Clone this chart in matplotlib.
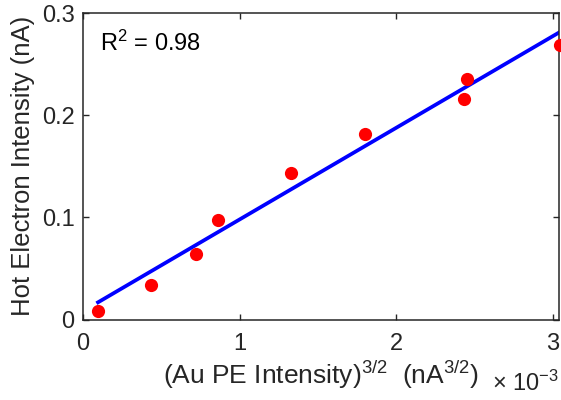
import matplotlib
matplotlib.use("Agg")
import matplotlib.pyplot as plt
import numpy as np

# Data (x in units of 1e-3 nA^{3/2})
pe_intensity_32 = [0.096, 0.434, 0.722, 0.860, 1.330, 1.799, 2.431, 2.450, 3.046]
hot_electron = [0.0086, 0.0335, 0.0641, 0.0977, 0.1434, 0.1816, 0.2161, 0.2354, 0.2687]
fit_slope = 0.0897
fit_intercept = 0.0082
r_squared = 0.98
x_ticks = [0, 1, 2, 3]
y_ticks = [0, 0.1, 0.2, 0.3]
y_tick_labels = ["0", "0.1", "0.2", "0.3"]

plt.rcParams['font.family'] = ['Liberation Sans', 'DejaVu Sans']
plt.rcParams['mathtext.fontset'] = 'custom'
plt.rcParams['mathtext.rm'] = 'Liberation Sans'
plt.rcParams['mathtext.it'] = 'Liberation Sans'
plt.rcParams['mathtext.bf'] = 'Liberation Sans'

fig = plt.figure(figsize=(5.61, 4.0), dpi=100)
ax = fig.add_axes([83/561, 1-319.5/400, (559-83)/561, (319.5-13)/400])

axis_col = (0.15, 0.15, 0.15)
xs = np.array([min(pe_intensity_32), max(pe_intensity_32)])
ax.plot(xs, fit_slope*xs + fit_intercept, color=(0, 0, 1), lw=2.7, zorder=2)
ax.plot(pe_intensity_32, hot_electron, 'o', color=(1, 0, 0), ms=9.5,
        mec='none', zorder=3, clip_on=False)

ax.set_xlim(0, 3.04)
ax.set_ylim(0, 0.3)
ax.set_xticks(x_ticks)
ax.set_yticks(y_ticks)
ax.set_yticklabels(y_tick_labels)
ax.tick_params(direction='in', top=True, right=True, length=4, width=1,
               colors=axis_col, labelsize=17, labelcolor=axis_col)
ax.tick_params(axis='x', pad=10)
ax.tick_params(axis='y', pad=6)
for s in ax.spines.values():
    s.set_color(axis_col)
    s.set_linewidth(1.1)

ax.set_ylabel("Hot Electron Intensity (nA)", fontsize=18.5, color=axis_col)
ax.yaxis.set_label_coords(-0.10, 0.5)
ax.set_xlabel(r"(Au PE Intensity)$^{3/2}$  (nA$^{3/2}$)", fontsize=19, color=axis_col)
ax.xaxis.set_label_coords(0.5, -0.13)
fig.text(492/561, 1-391/400, r"× 10$^{-3}$", fontsize=17, color=axis_col,
         ha='left', va='baseline')

ax.text(0.036, 0.876, r"R$^2$ = %.2f" % r_squared, transform=ax.transAxes,
        fontsize=17, color='black', ha='left', va='baseline')

fig.savefig("out.png", dpi=100)
